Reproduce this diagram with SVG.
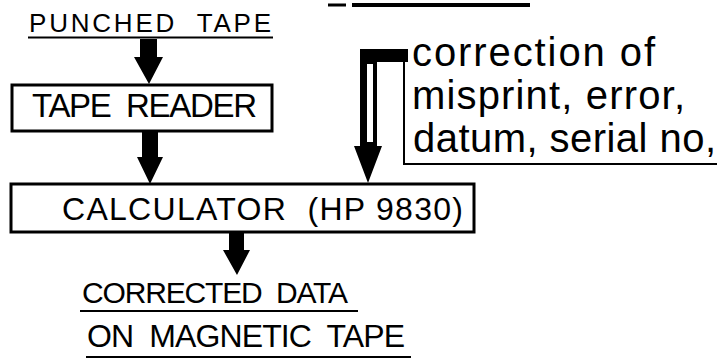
<svg xmlns="http://www.w3.org/2000/svg" width="725" height="363" viewBox="0 0 725 363" xml:space="preserve">
<style>
.bg{fill:#fff}
.box{fill:#fff;stroke:#000;stroke-width:3}
.caps{font-family:"Liberation Sans",Arial,sans-serif;fill:#000;white-space:pre}
.low{font-family:"Liberation Sans",Arial,sans-serif;font-size:40px;fill:#000}
.ul{stroke:#000;stroke-width:2;fill:none}
.arrow{fill:#000;stroke:none}
</style>
<rect class="bg" x="0" y="0" width="725" height="363"/>
<g id="top-rule">
<line x1="328" y1="5" x2="346" y2="5" stroke="#000" stroke-width="3"/>
<line x1="352" y1="5" x2="530" y2="5" stroke="#000" stroke-width="4"/>
</g>
<g id="punched-tape">
<text class="caps" x="29" y="32" font-size="26" textLength="242" lengthAdjust="spacing">PUNCHED  TAPE</text>
<line class="ul" x1="28" y1="37.5" x2="273" y2="37.5"/>
</g>
<g id="tape-reader">
<rect class="box" x="12" y="85" width="260" height="46"/>
<text class="caps" x="32" y="117" font-size="33" textLength="225" lengthAdjust="spacing">TAPE  READER</text>
</g>
<g id="calculator">
<rect class="box" x="11" y="184" width="463" height="48"/>
<text class="caps" x="62" y="220" font-size="32" textLength="401" lengthAdjust="spacing">CALCULATOR  (HP 9830)</text>
</g>
<g id="output">
<text class="caps" x="82" y="303" font-size="30" textLength="266" lengthAdjust="spacing">CORRECTED  DATA</text>
<line class="ul" x1="80" y1="311" x2="358" y2="311"/>
<text class="caps" x="87" y="347" font-size="32" textLength="318" lengthAdjust="spacing">ON  MAGNETIC  TAPE</text>
<line class="ul" x1="86" y1="357" x2="411" y2="357"/>
</g>
<g id="correction-note">
<text class="low" x="412" y="66" textLength="243" lengthAdjust="spacing">correction of</text>
<text class="low" x="412" y="109" textLength="273" lengthAdjust="spacing">misprint, error,</text>
<text class="low" x="413" y="152" textLength="303" lengthAdjust="spacing">datum, serial no,</text>
<polyline class="ul" points="404,60 404,164 717,164"/>
</g>
<g id="connectors">
<polygon class="arrow" points="140,39 157,39 157,57 163,57 149,84 134,57 140,57"/>
<polygon class="arrow" points="142,131 158,131 158,157 163,157 150,184 137,157 142,157"/>
<polygon class="arrow" points="229,232 244,232 244,250 250,250 237,275 223,250 229,250"/>
<polygon class="arrow" points="408,49 408,62 377,62 377,146 382,146 368,183 354,146 360,146 360,49"/>
<rect x="367" y="64" width="6" height="78" fill="#fff"/>
</g>
</svg>
